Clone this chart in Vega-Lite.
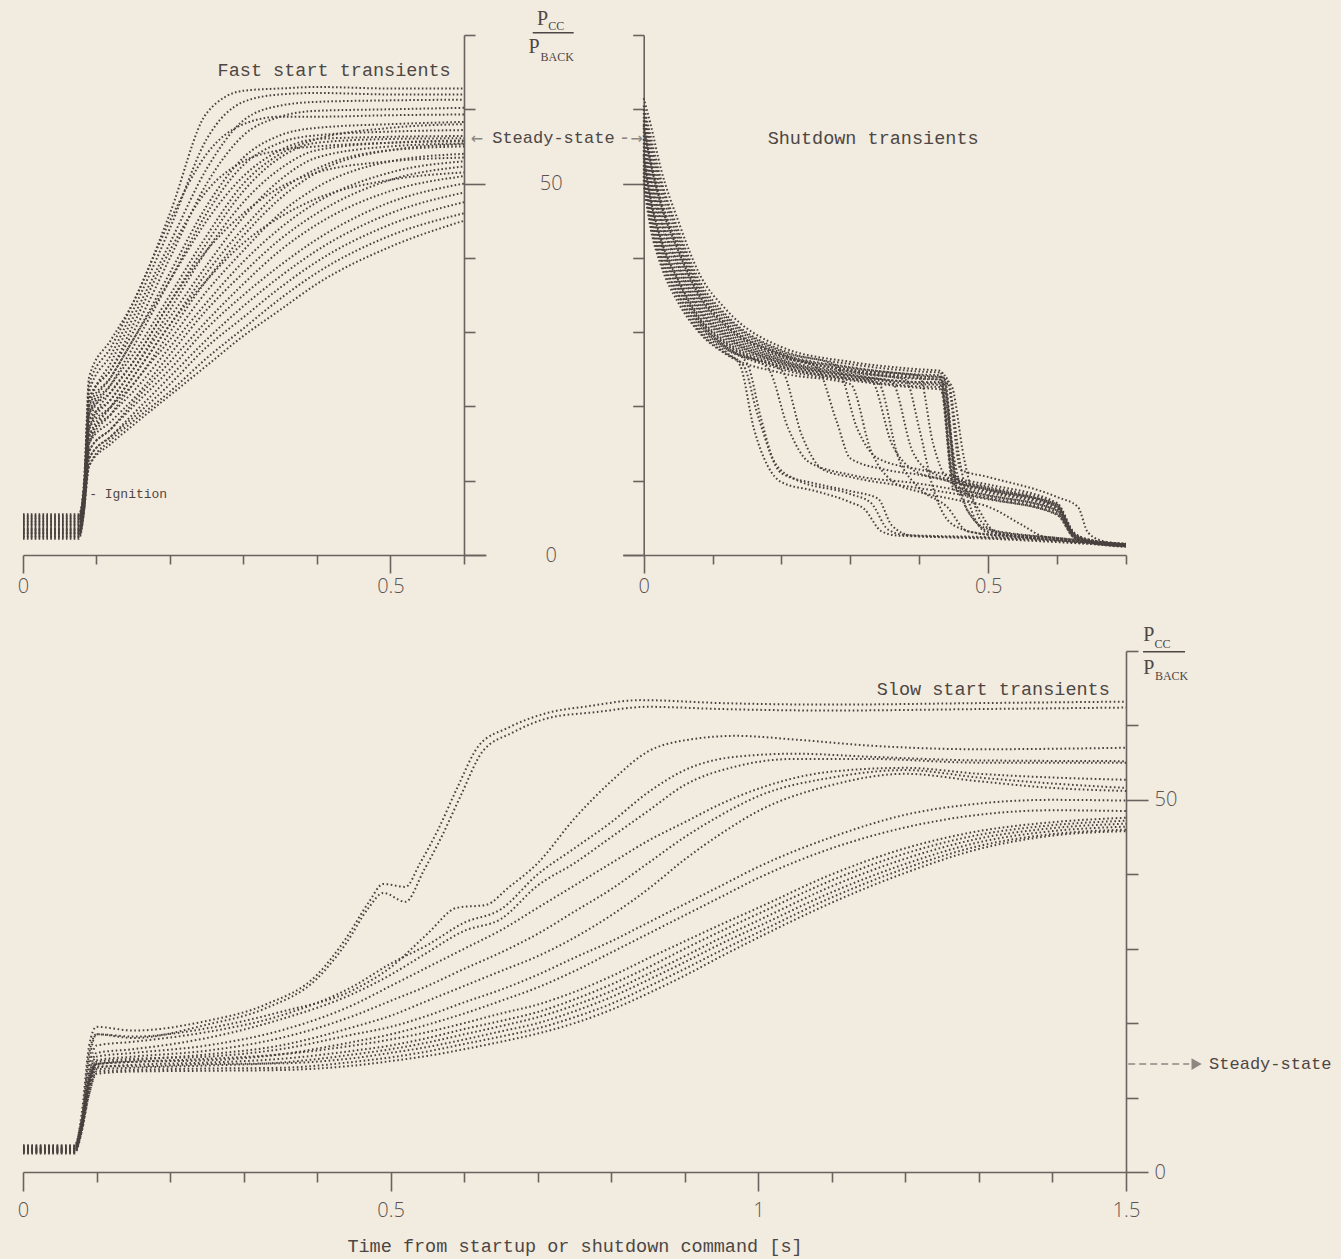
{
"$schema": "https://vega.github.io/schema/vega-lite/v6.json",
"background": "#f2ebe0",
"padding": {"left": 17, "top": 8, "right": 10, "bottom": 4},
"spacing": 28,
"config": {
  "view": {"stroke": null},
  "axis": {"domainColor": "#6a625e", "tickColor": "#6a625e", "domainWidth": 1.6, "tickWidth": 1.6, "grid": false, "labelFont": "Open Sans", "labelFontSize": 20, "labelFontWeight": 300, "labelColor": "#5a5350", "titleFont": "Liberation Mono", "titleFontSize": 18.5, "titleFontWeight": "normal", "titleColor": "#4d4744", "labelFlush": false, "labelOverlap": false, "labelBound": false}
},
"datasets": {
"fast": [
{"c":"f1","t":0,"v":3},{"c":"f1","t":0.076,"v":3},{"c":"f1","t":0.083,"v":9},{"c":"f1","t":0.09,"v":24},{"c":"f1","t":0.12,"v":29},{"c":"f1","t":0.15,"v":34},{"c":"f1","t":0.2,"v":46},{"c":"f1","t":0.25,"v":59.5},{"c":"f1","t":0.3,"v":62.5},{"c":"f1","t":0.35,"v":62.8},{"c":"f1","t":0.4,"v":63},{"c":"f1","t":0.5,"v":62.8},{"c":"f1","t":0.6,"v":62.8},
{"c":"f2","t":0,"v":4.5},{"c":"f2","t":0.076,"v":4.5},{"c":"f2","t":0.083,"v":10},{"c":"f2","t":0.09,"v":22},{"c":"f2","t":0.12,"v":27},{"c":"f2","t":0.15,"v":33},{"c":"f2","t":0.2,"v":44},{"c":"f2","t":0.25,"v":56},{"c":"f2","t":0.3,"v":61},{"c":"f2","t":0.35,"v":62},{"c":"f2","t":0.4,"v":62.2},{"c":"f2","t":0.5,"v":62},{"c":"f2","t":0.6,"v":62},
{"c":"f3","t":0,"v":2.5},{"c":"f3","t":0.076,"v":2.5},{"c":"f3","t":0.083,"v":8},{"c":"f3","t":0.09,"v":20},{"c":"f3","t":0.12,"v":26},{"c":"f3","t":0.15,"v":32},{"c":"f3","t":0.2,"v":42},{"c":"f3","t":0.25,"v":52},{"c":"f3","t":0.3,"v":58.5},{"c":"f3","t":0.35,"v":60.5},{"c":"f3","t":0.4,"v":61},{"c":"f3","t":0.5,"v":61.2},{"c":"f3","t":0.6,"v":61.3},
{"c":"f4","t":0,"v":5.2},{"c":"f4","t":0.076,"v":5.2},{"c":"f4","t":0.083,"v":9},{"c":"f4","t":0.09,"v":21},{"c":"f4","t":0.12,"v":25},{"c":"f4","t":0.15,"v":30},{"c":"f4","t":0.2,"v":40},{"c":"f4","t":0.25,"v":50},{"c":"f4","t":0.3,"v":56.5},{"c":"f4","t":0.35,"v":59},{"c":"f4","t":0.4,"v":59.8},{"c":"f4","t":0.5,"v":60},{"c":"f4","t":0.6,"v":60.2},
{"c":"f5","t":0,"v":3.5},{"c":"f5","t":0.076,"v":3.5},{"c":"f5","t":0.083,"v":8},{"c":"f5","t":0.09,"v":19},{"c":"f5","t":0.12,"v":24},{"c":"f5","t":0.15,"v":29},{"c":"f5","t":0.2,"v":38},{"c":"f5","t":0.25,"v":47},{"c":"f5","t":0.3,"v":53.5},{"c":"f5","t":0.35,"v":56.5},{"c":"f5","t":0.4,"v":57.5},{"c":"f5","t":0.5,"v":58},{"c":"f5","t":0.6,"v":58.3},
{"c":"f6","t":0,"v":4},{"c":"f6","t":0.076,"v":4},{"c":"f6","t":0.083,"v":7},{"c":"f6","t":0.09,"v":18},{"c":"f6","t":0.12,"v":23},{"c":"f6","t":0.15,"v":28},{"c":"f6","t":0.2,"v":37},{"c":"f6","t":0.25,"v":46},{"c":"f6","t":0.3,"v":52.5},{"c":"f6","t":0.35,"v":55.5},{"c":"f6","t":0.4,"v":56.5},{"c":"f6","t":0.5,"v":57},{"c":"f6","t":0.6,"v":57.2},
{"c":"f7","t":0,"v":2.8},{"c":"f7","t":0.076,"v":2.8},{"c":"f7","t":0.083,"v":8},{"c":"f7","t":0.09,"v":20},{"c":"f7","t":0.12,"v":24},{"c":"f7","t":0.15,"v":29},{"c":"f7","t":0.2,"v":37},{"c":"f7","t":0.25,"v":45},{"c":"f7","t":0.3,"v":51},{"c":"f7","t":0.35,"v":54.5},{"c":"f7","t":0.4,"v":56},{"c":"f7","t":0.5,"v":56.3},{"c":"f7","t":0.6,"v":56.4},
{"c":"f8","t":0,"v":4.8},{"c":"f8","t":0.076,"v":4.8},{"c":"f8","t":0.083,"v":9},{"c":"f8","t":0.09,"v":19},{"c":"f8","t":0.12,"v":22},{"c":"f8","t":0.15,"v":26},{"c":"f8","t":0.2,"v":34},{"c":"f8","t":0.25,"v":42},{"c":"f8","t":0.3,"v":49},{"c":"f8","t":0.35,"v":53.5},{"c":"f8","t":0.4,"v":55.5},{"c":"f8","t":0.5,"v":56},{"c":"f8","t":0.6,"v":56.1},
{"c":"f9","t":0,"v":3.2},{"c":"f9","t":0.076,"v":3.2},{"c":"f9","t":0.083,"v":7},{"c":"f9","t":0.09,"v":17},{"c":"f9","t":0.12,"v":21},{"c":"f9","t":0.15,"v":25},{"c":"f9","t":0.2,"v":33},{"c":"f9","t":0.25,"v":41},{"c":"f9","t":0.3,"v":47.5},{"c":"f9","t":0.35,"v":52},{"c":"f9","t":0.4,"v":54.5},{"c":"f9","t":0.5,"v":55.5},{"c":"f9","t":0.6,"v":55.8},
{"c":"f10","t":0,"v":5.5},{"c":"f10","t":0.076,"v":5.5},{"c":"f10","t":0.083,"v":9},{"c":"f10","t":0.09,"v":18},{"c":"f10","t":0.12,"v":21},{"c":"f10","t":0.15,"v":25},{"c":"f10","t":0.2,"v":32},{"c":"f10","t":0.25,"v":39},{"c":"f10","t":0.3,"v":45.5},{"c":"f10","t":0.35,"v":50.5},{"c":"f10","t":0.4,"v":53.5},{"c":"f10","t":0.5,"v":55},{"c":"f10","t":0.6,"v":55.4},
{"c":"f11","t":0,"v":2.2},{"c":"f11","t":0.076,"v":2.2},{"c":"f11","t":0.083,"v":6},{"c":"f11","t":0.09,"v":16},{"c":"f11","t":0.12,"v":20},{"c":"f11","t":0.15,"v":24},{"c":"f11","t":0.2,"v":31},{"c":"f11","t":0.25,"v":38},{"c":"f11","t":0.3,"v":44},{"c":"f11","t":0.35,"v":49},{"c":"f11","t":0.4,"v":52},{"c":"f11","t":0.5,"v":54.5},{"c":"f11","t":0.6,"v":55},
{"c":"f12","t":0,"v":4.2},{"c":"f12","t":0.076,"v":4.2},{"c":"f12","t":0.083,"v":8},{"c":"f12","t":0.09,"v":17},{"c":"f12","t":0.12,"v":20},{"c":"f12","t":0.15,"v":23},{"c":"f12","t":0.2,"v":30},{"c":"f12","t":0.25,"v":37},{"c":"f12","t":0.3,"v":43},{"c":"f12","t":0.35,"v":48},{"c":"f12","t":0.4,"v":51.5},{"c":"f12","t":0.5,"v":54.5},{"c":"f12","t":0.6,"v":55.3},
{"c":"f13","t":0,"v":3.8},{"c":"f13","t":0.076,"v":3.8},{"c":"f13","t":0.083,"v":7},{"c":"f13","t":0.09,"v":15},{"c":"f13","t":0.12,"v":19},{"c":"f13","t":0.15,"v":23},{"c":"f13","t":0.2,"v":29},{"c":"f13","t":0.25,"v":35.5},{"c":"f13","t":0.3,"v":41},{"c":"f13","t":0.35,"v":46},{"c":"f13","t":0.4,"v":49.5},{"c":"f13","t":0.5,"v":53},{"c":"f13","t":0.6,"v":54},
{"c":"f14","t":0,"v":2.6},{"c":"f14","t":0.076,"v":2.6},{"c":"f14","t":0.083,"v":6},{"c":"f14","t":0.09,"v":16},{"c":"f14","t":0.12,"v":19},{"c":"f14","t":0.15,"v":22},{"c":"f14","t":0.2,"v":28},{"c":"f14","t":0.25,"v":34},{"c":"f14","t":0.3,"v":39.5},{"c":"f14","t":0.35,"v":44},{"c":"f14","t":0.4,"v":47.5},{"c":"f14","t":0.5,"v":51.5},{"c":"f14","t":0.6,"v":53},
{"c":"f15","t":0,"v":4.6},{"c":"f15","t":0.076,"v":4.6},{"c":"f15","t":0.083,"v":8},{"c":"f15","t":0.09,"v":15},{"c":"f15","t":0.12,"v":18},{"c":"f15","t":0.15,"v":21},{"c":"f15","t":0.2,"v":27},{"c":"f15","t":0.25,"v":33},{"c":"f15","t":0.3,"v":38},{"c":"f15","t":0.35,"v":42.5},{"c":"f15","t":0.4,"v":46},{"c":"f15","t":0.5,"v":50.5},{"c":"f15","t":0.6,"v":52.3},
{"c":"f16","t":0,"v":3.3},{"c":"f16","t":0.076,"v":3.3},{"c":"f16","t":0.083,"v":6},{"c":"f16","t":0.09,"v":14},{"c":"f16","t":0.12,"v":17},{"c":"f16","t":0.15,"v":20.5},{"c":"f16","t":0.2,"v":26},{"c":"f16","t":0.25,"v":31.5},{"c":"f16","t":0.3,"v":36.5},{"c":"f16","t":0.35,"v":41},{"c":"f16","t":0.4,"v":44.5},{"c":"f16","t":0.5,"v":49},{"c":"f16","t":0.6,"v":51},
{"c":"f17","t":0,"v":5},{"c":"f17","t":0.076,"v":5},{"c":"f17","t":0.083,"v":8},{"c":"f17","t":0.09,"v":14},{"c":"f17","t":0.12,"v":17},{"c":"f17","t":0.15,"v":20},{"c":"f17","t":0.2,"v":25},{"c":"f17","t":0.25,"v":30.5},{"c":"f17","t":0.3,"v":35},{"c":"f17","t":0.35,"v":39},{"c":"f17","t":0.4,"v":42.5},{"c":"f17","t":0.5,"v":47.5},{"c":"f17","t":0.6,"v":50},
{"c":"f18","t":0,"v":2.4},{"c":"f18","t":0.076,"v":2.4},{"c":"f18","t":0.083,"v":6},{"c":"f18","t":0.09,"v":13},{"c":"f18","t":0.12,"v":16},{"c":"f18","t":0.15,"v":19},{"c":"f18","t":0.2,"v":24},{"c":"f18","t":0.25,"v":29},{"c":"f18","t":0.3,"v":33.5},{"c":"f18","t":0.35,"v":37.5},{"c":"f18","t":0.4,"v":41},{"c":"f18","t":0.5,"v":46},{"c":"f18","t":0.6,"v":48.8},
{"c":"f19","t":0,"v":4.4},{"c":"f19","t":0.076,"v":4.4},{"c":"f19","t":0.083,"v":7},{"c":"f19","t":0.09,"v":13},{"c":"f19","t":0.12,"v":16},{"c":"f19","t":0.15,"v":18.5},{"c":"f19","t":0.2,"v":23},{"c":"f19","t":0.25,"v":28},{"c":"f19","t":0.3,"v":32},{"c":"f19","t":0.35,"v":36},{"c":"f19","t":0.4,"v":39.5},{"c":"f19","t":0.5,"v":44.5},{"c":"f19","t":0.6,"v":47.5},
{"c":"f20","t":0,"v":3},{"c":"f20","t":0.076,"v":3},{"c":"f20","t":0.083,"v":6},{"c":"f20","t":0.09,"v":12},{"c":"f20","t":0.12,"v":15.5},{"c":"f20","t":0.15,"v":18},{"c":"f20","t":0.2,"v":22},{"c":"f20","t":0.25,"v":26.5},{"c":"f20","t":0.3,"v":30.5},{"c":"f20","t":0.35,"v":34.5},{"c":"f20","t":0.4,"v":38},{"c":"f20","t":0.5,"v":43},{"c":"f20","t":0.6,"v":46},
{"c":"f21","t":0,"v":5.3},{"c":"f21","t":0.076,"v":5.3},{"c":"f21","t":0.083,"v":7},{"c":"f21","t":0.09,"v":12},{"c":"f21","t":0.12,"v":15},{"c":"f21","t":0.15,"v":17.5},{"c":"f21","t":0.2,"v":21.5},{"c":"f21","t":0.25,"v":25.5},{"c":"f21","t":0.3,"v":29.5},{"c":"f21","t":0.35,"v":33},{"c":"f21","t":0.4,"v":36.5},{"c":"f21","t":0.5,"v":41.5},{"c":"f21","t":0.6,"v":45},
{"c":"f22","t":0,"v":3.6},{"c":"f22","t":0.076,"v":3.6},{"c":"f22","t":0.083,"v":8},{"c":"f22","t":0.09,"v":21},{"c":"f22","t":0.12,"v":25},{"c":"f22","t":0.15,"v":31},{"c":"f22","t":0.2,"v":41},{"c":"f22","t":0.25,"v":49},{"c":"f22","t":0.3,"v":53},{"c":"f22","t":0.35,"v":54.5},{"c":"f22","t":0.4,"v":55},{"c":"f22","t":0.5,"v":55.5},{"c":"f22","t":0.6,"v":55.7},
{"c":"f23","t":0,"v":4.9},{"c":"f23","t":0.076,"v":4.9},{"c":"f23","t":0.083,"v":9},{"c":"f23","t":0.09,"v":19},{"c":"f23","t":0.12,"v":23},{"c":"f23","t":0.15,"v":27},{"c":"f23","t":0.2,"v":35},{"c":"f23","t":0.25,"v":43},{"c":"f23","t":0.3,"v":50},{"c":"f23","t":0.35,"v":54},{"c":"f23","t":0.4,"v":56},{"c":"f23","t":0.5,"v":57.5},{"c":"f23","t":0.6,"v":58},
{"c":"f24","t":0,"v":2.9},{"c":"f24","t":0.076,"v":2.9},{"c":"f24","t":0.083,"v":7},{"c":"f24","t":0.09,"v":17},{"c":"f24","t":0.12,"v":22},{"c":"f24","t":0.15,"v":26},{"c":"f24","t":0.2,"v":34},{"c":"f24","t":0.25,"v":41},{"c":"f24","t":0.3,"v":46},{"c":"f24","t":0.35,"v":49.5},{"c":"f24","t":0.4,"v":51.5},{"c":"f24","t":0.5,"v":53},{"c":"f24","t":0.6,"v":53.5},
{"c":"f25","t":0,"v":4.1},{"c":"f25","t":0.076,"v":4.1},{"c":"f25","t":0.083,"v":7},{"c":"f25","t":0.09,"v":15},{"c":"f25","t":0.12,"v":20},{"c":"f25","t":0.15,"v":24},{"c":"f25","t":0.2,"v":31},{"c":"f25","t":0.25,"v":37},{"c":"f25","t":0.3,"v":42},{"c":"f25","t":0.35,"v":45.5},{"c":"f25","t":0.4,"v":48},{"c":"f25","t":0.5,"v":50.5},{"c":"f25","t":0.6,"v":51.5},
{"c":"f26","t":0,"v":3.4},{"c":"f26","t":0.076,"v":3.4},{"c":"f26","t":0.083,"v":8},{"c":"f26","t":0.09,"v":23},{"c":"f26","t":0.12,"v":28},{"c":"f26","t":0.15,"v":34},{"c":"f26","t":0.2,"v":45},{"c":"f26","t":0.25,"v":54},{"c":"f26","t":0.3,"v":58},{"c":"f26","t":0.35,"v":59},{"c":"f26","t":0.4,"v":59},{"c":"f26","t":0.5,"v":59.2},{"c":"f26","t":0.6,"v":59.3}
],
"shut": [
{"c":"s1","t":0,"v":61.5},{"c":"s1","t":0.01,"v":58},{"c":"s1","t":0.025,"v":52},{"c":"s1","t":0.05,"v":45},{"c":"s1","t":0.08,"v":38},{"c":"s1","t":0.12,"v":33},{"c":"s1","t":0.2,"v":28},{"c":"s1","t":0.3,"v":26},{"c":"s1","t":0.4,"v":25},{"c":"s1","t":0.43,"v":24.8},{"c":"s1","t":0.45,"v":10.5},{"c":"s1","t":0.5,"v":9.5},{"c":"s1","t":0.6,"v":7},{"c":"s1","t":0.625,"v":3},{"c":"s1","t":0.65,"v":2},{"c":"s1","t":0.7,"v":1.5},
{"c":"s2","t":0,"v":60.5},{"c":"s2","t":0.01,"v":56.4},{"c":"s2","t":0.025,"v":50.6},{"c":"s2","t":0.05,"v":43.8},{"c":"s2","t":0.08,"v":37.1},{"c":"s2","t":0.12,"v":32.3},{"c":"s2","t":0.2,"v":27.6},{"c":"s2","t":0.3,"v":25.7},{"c":"s2","t":0.4,"v":24.7},{"c":"s2","t":0.435,"v":24.5},{"c":"s2","t":0.455,"v":10.2},{"c":"s2","t":0.5,"v":9.2},{"c":"s2","t":0.6,"v":6.8},{"c":"s2","t":0.625,"v":2.9},{"c":"s2","t":0.65,"v":1.95},{"c":"s2","t":0.7,"v":1.45},
{"c":"s3","t":0,"v":59.5},{"c":"s3","t":0.01,"v":54.9},{"c":"s3","t":0.025,"v":49.1},{"c":"s3","t":0.05,"v":42.6},{"c":"s3","t":0.08,"v":36.2},{"c":"s3","t":0.12,"v":31.7},{"c":"s3","t":0.2,"v":27.2},{"c":"s3","t":0.3,"v":25.3},{"c":"s3","t":0.4,"v":24.3},{"c":"s3","t":0.43,"v":24.2},{"c":"s3","t":0.45,"v":9.9},{"c":"s3","t":0.5,"v":8.9},{"c":"s3","t":0.6,"v":6.6},{"c":"s3","t":0.625,"v":2.8},{"c":"s3","t":0.65,"v":1.9},{"c":"s3","t":0.7,"v":1.4},
{"c":"s4","t":0,"v":58.5},{"c":"s4","t":0.01,"v":53.3},{"c":"s4","t":0.025,"v":47.7},{"c":"s4","t":0.05,"v":41.3},{"c":"s4","t":0.08,"v":35.3},{"c":"s4","t":0.12,"v":31},{"c":"s4","t":0.2,"v":26.8},{"c":"s4","t":0.3,"v":25},{"c":"s4","t":0.4,"v":24},{"c":"s4","t":0.435,"v":23.9},{"c":"s4","t":0.455,"v":9.7},{"c":"s4","t":0.5,"v":8.7},{"c":"s4","t":0.6,"v":6.3},{"c":"s4","t":0.625,"v":2.7},{"c":"s4","t":0.65,"v":1.85},{"c":"s4","t":0.7,"v":1.35},
{"c":"s5","t":0,"v":57},{"c":"s5","t":0.01,"v":51.8},{"c":"s5","t":0.025,"v":46.2},{"c":"s5","t":0.05,"v":40.1},{"c":"s5","t":0.08,"v":34.4},{"c":"s5","t":0.12,"v":30.3},{"c":"s5","t":0.2,"v":26.4},{"c":"s5","t":0.3,"v":24.7},{"c":"s5","t":0.4,"v":23.7},{"c":"s5","t":0.43,"v":23.6},{"c":"s5","t":0.45,"v":9.4},{"c":"s5","t":0.5,"v":8.4},{"c":"s5","t":0.6,"v":6.1},{"c":"s5","t":0.625,"v":2.6},{"c":"s5","t":0.65,"v":1.8},{"c":"s5","t":0.7,"v":1.3},
{"c":"s6","t":0,"v":56},{"c":"s6","t":0.01,"v":50.2},{"c":"s6","t":0.025,"v":44.8},{"c":"s6","t":0.05,"v":38.9},{"c":"s6","t":0.08,"v":33.6},{"c":"s6","t":0.12,"v":29.7},{"c":"s6","t":0.2,"v":26.1},{"c":"s6","t":0.3,"v":24.3},{"c":"s6","t":0.4,"v":23.3},{"c":"s6","t":0.435,"v":23.3},{"c":"s6","t":0.455,"v":9.1},{"c":"s6","t":0.5,"v":8.1},{"c":"s6","t":0.6,"v":5.9},{"c":"s6","t":0.625,"v":2.5},{"c":"s6","t":0.65,"v":1.75},{"c":"s6","t":0.7,"v":1.25},
{"c":"s7","t":0,"v":54.5},{"c":"s7","t":0.01,"v":48.7},{"c":"s7","t":0.025,"v":43.3},{"c":"s7","t":0.05,"v":37.7},{"c":"s7","t":0.08,"v":32.7},{"c":"s7","t":0.12,"v":29},{"c":"s7","t":0.2,"v":25.7},{"c":"s7","t":0.3,"v":24},{"c":"s7","t":0.4,"v":23},{"c":"s7","t":0.43,"v":22.9},{"c":"s7","t":0.45,"v":8.8},{"c":"s7","t":0.5,"v":7.8},{"c":"s7","t":0.6,"v":5.7},{"c":"s7","t":0.625,"v":2.4},{"c":"s7","t":0.65,"v":1.7},{"c":"s7","t":0.7,"v":1.2},
{"c":"s8","t":0,"v":53},{"c":"s8","t":0.01,"v":47.1},{"c":"s8","t":0.025,"v":41.9},{"c":"s8","t":0.05,"v":36.4},{"c":"s8","t":0.08,"v":31.8},{"c":"s8","t":0.12,"v":28.3},{"c":"s8","t":0.2,"v":25.3},{"c":"s8","t":0.3,"v":23.7},{"c":"s8","t":0.4,"v":22.7},{"c":"s8","t":0.435,"v":22.6},{"c":"s8","t":0.455,"v":8.6},{"c":"s8","t":0.5,"v":7.6},{"c":"s8","t":0.6,"v":5.4},{"c":"s8","t":0.625,"v":2.3},{"c":"s8","t":0.65,"v":1.65},{"c":"s8","t":0.7,"v":1.15},
{"c":"s9","t":0,"v":51.5},{"c":"s9","t":0.01,"v":45.6},{"c":"s9","t":0.025,"v":40.4},{"c":"s9","t":0.05,"v":35.2},{"c":"s9","t":0.08,"v":30.9},{"c":"s9","t":0.12,"v":27.7},{"c":"s9","t":0.2,"v":24.9},{"c":"s9","t":0.23,"v":16},{"c":"s9","t":0.26,"v":11.5},{"c":"s9","t":0.3,"v":10.5},{"c":"s9","t":0.4,"v":9},{"c":"s9","t":0.5,"v":7.5},{"c":"s9","t":0.6,"v":5.5},{"c":"s9","t":0.625,"v":2.3},{"c":"s9","t":0.65,"v":1.6},{"c":"s9","t":0.7,"v":1.1},
{"c":"s10","t":0,"v":50},{"c":"s10","t":0.01,"v":44},{"c":"s10","t":0.025,"v":39},{"c":"s10","t":0.05,"v":34},{"c":"s10","t":0.08,"v":30},{"c":"s10","t":0.12,"v":27},{"c":"s10","t":0.2,"v":24.5},{"c":"s10","t":0.3,"v":23},{"c":"s10","t":0.33,"v":14},{"c":"s10","t":0.36,"v":10},{"c":"s10","t":0.4,"v":8.5},{"c":"s10","t":0.45,"v":7.5},{"c":"s10","t":0.5,"v":6.5},{"c":"s10","t":0.55,"v":4},{"c":"s10","t":0.58,"v":2.5},{"c":"s10","t":0.7,"v":1.2},
{"c":"s11","t":0,"v":59},{"c":"s11","t":0.01,"v":54},{"c":"s11","t":0.025,"v":48},{"c":"s11","t":0.05,"v":42},{"c":"s11","t":0.08,"v":35.8},{"c":"s11","t":0.12,"v":31.3},{"c":"s11","t":0.2,"v":27},{"c":"s11","t":0.3,"v":25.2},{"c":"s11","t":0.4,"v":24.2},{"c":"s11","t":0.44,"v":23.8},{"c":"s11","t":0.46,"v":12},{"c":"s11","t":0.48,"v":5},{"c":"s11","t":0.5,"v":3},{"c":"s11","t":0.6,"v":2.2},{"c":"s11","t":0.7,"v":1.4},
{"c":"s12","t":0,"v":55},{"c":"s12","t":0.01,"v":49.5},{"c":"s12","t":0.025,"v":44},{"c":"s12","t":0.05,"v":38.3},{"c":"s12","t":0.08,"v":33},{"c":"s12","t":0.12,"v":29.3},{"c":"s12","t":0.2,"v":25.9},{"c":"s12","t":0.3,"v":24.2},{"c":"s12","t":0.4,"v":23.2},{"c":"s12","t":0.445,"v":23},{"c":"s12","t":0.465,"v":13},{"c":"s12","t":0.49,"v":4.5},{"c":"s12","t":0.52,"v":2.8},{"c":"s12","t":0.6,"v":2.1},{"c":"s12","t":0.7,"v":1.3},
{"c":"s13","t":0,"v":52},{"c":"s13","t":0.01,"v":46},{"c":"s13","t":0.025,"v":41},{"c":"s13","t":0.05,"v":35.8},{"c":"s13","t":0.08,"v":31.4},{"c":"s13","t":0.12,"v":28},{"c":"s13","t":0.2,"v":25},{"c":"s13","t":0.3,"v":23.5},{"c":"s13","t":0.4,"v":22.5},{"c":"s13","t":0.43,"v":22.3},{"c":"s13","t":0.455,"v":11},{"c":"s13","t":0.47,"v":6},{"c":"s13","t":0.5,"v":3.5},{"c":"s13","t":0.6,"v":2.3},{"c":"s13","t":0.7,"v":1.5},
{"c":"s14","t":0,"v":57.5},{"c":"s14","t":0.01,"v":52.5},{"c":"s14","t":0.025,"v":46.9},{"c":"s14","t":0.05,"v":40.7},{"c":"s14","t":0.08,"v":34.8},{"c":"s14","t":0.12,"v":30.6},{"c":"s14","t":0.2,"v":26.6},{"c":"s14","t":0.25,"v":25.4},{"c":"s14","t":0.28,"v":18},{"c":"s14","t":0.3,"v":13},{"c":"s14","t":0.35,"v":11.5},{"c":"s14","t":0.4,"v":10.8},{"c":"s14","t":0.5,"v":8.6},{"c":"s14","t":0.6,"v":6.5},{"c":"s14","t":0.625,"v":2.8},{"c":"s14","t":0.65,"v":1.9},{"c":"s14","t":0.7,"v":1.4},
{"c":"s15","t":0,"v":54},{"c":"s15","t":0.01,"v":48},{"c":"s15","t":0.025,"v":42.6},{"c":"s15","t":0.05,"v":37.2},{"c":"s15","t":0.08,"v":32.2},{"c":"s15","t":0.12,"v":28.7},{"c":"s15","t":0.2,"v":25.5},{"c":"s15","t":0.3,"v":23.8},{"c":"s15","t":0.33,"v":23.5},{"c":"s15","t":0.36,"v":15},{"c":"s15","t":0.39,"v":11.5},{"c":"s15","t":0.45,"v":9.5},{"c":"s15","t":0.47,"v":6},{"c":"s15","t":0.5,"v":3.2},{"c":"s15","t":0.6,"v":2.2},{"c":"s15","t":0.7,"v":1.3},
{"c":"s16","t":0,"v":56.5},{"c":"s16","t":0.01,"v":51},{"c":"s16","t":0.025,"v":45.5},{"c":"s16","t":0.05,"v":39.5},{"c":"s16","t":0.08,"v":34},{"c":"s16","t":0.12,"v":30},{"c":"s16","t":0.2,"v":26.2},{"c":"s16","t":0.3,"v":24.5},{"c":"s16","t":0.38,"v":23.6},{"c":"s16","t":0.4,"v":17},{"c":"s16","t":0.42,"v":9},{"c":"s16","t":0.45,"v":4},{"c":"s16","t":0.5,"v":2.7},{"c":"s16","t":0.6,"v":2.1},{"c":"s16","t":0.7,"v":1.3},
{"c":"s17","t":0,"v":51},{"c":"s17","t":0.01,"v":45},{"c":"s17","t":0.025,"v":40},{"c":"s17","t":0.05,"v":35},{"c":"s17","t":0.08,"v":30.5},{"c":"s17","t":0.12,"v":27.3},{"c":"s17","t":0.14,"v":25.5},{"c":"s17","t":0.16,"v":17},{"c":"s17","t":0.18,"v":12},{"c":"s17","t":0.2,"v":9.8},{"c":"s17","t":0.25,"v":8.6},{"c":"s17","t":0.3,"v":7.1},{"c":"s17","t":0.32,"v":6.2},{"c":"s17","t":0.345,"v":3.2},{"c":"s17","t":0.37,"v":2.6},{"c":"s17","t":0.5,"v":2.3},{"c":"s17","t":0.7,"v":1.3},
{"c":"s18","t":0,"v":53.5},{"c":"s18","t":0.01,"v":47.5},{"c":"s18","t":0.025,"v":42},{"c":"s18","t":0.05,"v":36.8},{"c":"s18","t":0.08,"v":31.6},{"c":"s18","t":0.12,"v":28},{"c":"s18","t":0.15,"v":25.8},{"c":"s18","t":0.17,"v":18.5},{"c":"s18","t":0.19,"v":12.5},{"c":"s18","t":0.22,"v":10.2},{"c":"s18","t":0.3,"v":8.2},{"c":"s18","t":0.33,"v":7},{"c":"s18","t":0.355,"v":3.4},{"c":"s18","t":0.38,"v":2.7},{"c":"s18","t":0.5,"v":2.4},{"c":"s18","t":0.7,"v":1.4},
{"c":"s19","t":0,"v":50.5},{"c":"s19","t":0.01,"v":44.5},{"c":"s19","t":0.025,"v":39.5},{"c":"s19","t":0.05,"v":34.5},{"c":"s19","t":0.08,"v":30.2},{"c":"s19","t":0.12,"v":27.1},{"c":"s19","t":0.145,"v":25.5},{"c":"s19","t":0.165,"v":19},{"c":"s19","t":0.2,"v":11},{"c":"s19","t":0.25,"v":9.6},{"c":"s19","t":0.3,"v":8.6},{"c":"s19","t":0.34,"v":7.6},{"c":"s19","t":0.36,"v":4},{"c":"s19","t":0.39,"v":2.6},{"c":"s19","t":0.5,"v":2.2},{"c":"s19","t":0.7,"v":1.2},
{"c":"s20","t":0,"v":60},{"c":"s20","t":0.01,"v":55.5},{"c":"s20","t":0.025,"v":50},{"c":"s20","t":0.05,"v":43.2},{"c":"s20","t":0.08,"v":36.6},{"c":"s20","t":0.12,"v":32},{"c":"s20","t":0.2,"v":27.4},{"c":"s20","t":0.28,"v":25.5},{"c":"s20","t":0.31,"v":17},{"c":"s20","t":0.34,"v":13},{"c":"s20","t":0.4,"v":11.5},{"c":"s20","t":0.45,"v":10.5},{"c":"s20","t":0.48,"v":7},{"c":"s20","t":0.51,"v":3.2},{"c":"s20","t":0.6,"v":2.3},{"c":"s20","t":0.7,"v":1.4},
{"c":"s21","t":0,"v":55.5},{"c":"s21","t":0.01,"v":50.5},{"c":"s21","t":0.025,"v":45},{"c":"s21","t":0.05,"v":39},{"c":"s21","t":0.08,"v":33.3},{"c":"s21","t":0.12,"v":29.5},{"c":"s21","t":0.2,"v":25.8},{"c":"s21","t":0.3,"v":24.1},{"c":"s21","t":0.36,"v":23.3},{"c":"s21","t":0.39,"v":14},{"c":"s21","t":0.42,"v":11},{"c":"s21","t":0.5,"v":9},{"c":"s21","t":0.6,"v":6.5},{"c":"s21","t":0.625,"v":2.7},{"c":"s21","t":0.65,"v":1.8},{"c":"s21","t":0.7,"v":1.3},
{"c":"s22","t":0,"v":58},{"c":"s22","t":0.01,"v":53},{"c":"s22","t":0.025,"v":47.5},{"c":"s22","t":0.05,"v":41.5},{"c":"s22","t":0.08,"v":35.5},{"c":"s22","t":0.12,"v":31},{"c":"s22","t":0.2,"v":27},{"c":"s22","t":0.3,"v":24.8},{"c":"s22","t":0.4,"v":23.8},{"c":"s22","t":0.44,"v":23.5},{"c":"s22","t":0.46,"v":11.5},{"c":"s22","t":0.5,"v":10.5},{"c":"s22","t":0.6,"v":7.8},{"c":"s22","t":0.63,"v":6.5},{"c":"s22","t":0.645,"v":3},{"c":"s22","t":0.67,"v":1.8},{"c":"s22","t":0.7,"v":1.5},
{"c":"s23","t":0,"v":57.8},{"c":"s23","t":0.01,"v":52.8},{"c":"s23","t":0.025,"v":47.2},{"c":"s23","t":0.05,"v":41},{"c":"s23","t":0.08,"v":35},{"c":"s23","t":0.12,"v":30.8},{"c":"s23","t":0.2,"v":26.8},{"c":"s23","t":0.3,"v":24.9},{"c":"s23","t":0.4,"v":24.1},{"c":"s23","t":0.42,"v":15},{"c":"s23","t":0.44,"v":10.5},{"c":"s23","t":0.5,"v":8.8},{"c":"s23","t":0.6,"v":6.8},{"c":"s23","t":0.62,"v":3},{"c":"s23","t":0.65,"v":2},{"c":"s23","t":0.7,"v":1.4},
{"c":"s24","t":0,"v":52.5},{"c":"s24","t":0.01,"v":46.5},{"c":"s24","t":0.025,"v":41.5},{"c":"s24","t":0.05,"v":36},{"c":"s24","t":0.08,"v":31.2},{"c":"s24","t":0.12,"v":27.8},{"c":"s24","t":0.18,"v":25.2},{"c":"s24","t":0.21,"v":17},{"c":"s24","t":0.24,"v":12.5},{"c":"s24","t":0.3,"v":10.8},{"c":"s24","t":0.4,"v":9.6},{"c":"s24","t":0.5,"v":8},{"c":"s24","t":0.6,"v":6},{"c":"s24","t":0.625,"v":2.5},{"c":"s24","t":0.65,"v":1.7},{"c":"s24","t":0.7,"v":1.2},
{"c":"s25","t":0,"v":53.8},{"c":"s25","t":0.01,"v":48},{"c":"s25","t":0.025,"v":42.5},{"c":"s25","t":0.05,"v":37},{"c":"s25","t":0.08,"v":32},{"c":"s25","t":0.12,"v":28.5},{"c":"s25","t":0.2,"v":25.3},{"c":"s25","t":0.3,"v":23.7},{"c":"s25","t":0.34,"v":23.2},{"c":"s25","t":0.37,"v":13},{"c":"s25","t":0.4,"v":9},{"c":"s25","t":0.44,"v":6.5},{"c":"s25","t":0.47,"v":3.2},{"c":"s25","t":0.55,"v":2.4},{"c":"s25","t":0.7,"v":1.3}
],
"slow": [
{"c":"a1","t":0,"v":3.2},{"c":"a1","t":0.07,"v":3.2},{"c":"a1","t":0.08,"v":8},{"c":"a1","t":0.09,"v":17},{"c":"a1","t":0.1,"v":19.5},{"c":"a1","t":0.15,"v":19},{"c":"a1","t":0.25,"v":20.3},{"c":"a1","t":0.33,"v":22.5},{"c":"a1","t":0.4,"v":26.5},{"c":"a1","t":0.44,"v":31.5},{"c":"a1","t":0.47,"v":36.2},{"c":"a1","t":0.49,"v":38.7},{"c":"a1","t":0.52,"v":38.3},{"c":"a1","t":0.54,"v":41.5},{"c":"a1","t":0.565,"v":46.1},{"c":"a1","t":0.59,"v":51.5},{"c":"a1","t":0.62,"v":57.3},{"c":"a1","t":0.66,"v":59.7},{"c":"a1","t":0.71,"v":61.6},{"c":"a1","t":0.77,"v":62.6},{"c":"a1","t":0.84,"v":63.4},{"c":"a1","t":0.95,"v":63},{"c":"a1","t":1.1,"v":62.8},{"c":"a1","t":1.3,"v":63},{"c":"a1","t":1.5,"v":63.2},
{"c":"a2","t":0,"v":2.7},{"c":"a2","t":0.07,"v":2.7},{"c":"a2","t":0.08,"v":7},{"c":"a2","t":0.09,"v":15},{"c":"a2","t":0.1,"v":18.5},{"c":"a2","t":0.15,"v":18},{"c":"a2","t":0.25,"v":19.8},{"c":"a2","t":0.33,"v":22},{"c":"a2","t":0.4,"v":26},{"c":"a2","t":0.44,"v":30.8},{"c":"a2","t":0.47,"v":35.5},{"c":"a2","t":0.49,"v":37.5},{"c":"a2","t":0.52,"v":36.3},{"c":"a2","t":0.545,"v":40.5},{"c":"a2","t":0.57,"v":45.2},{"c":"a2","t":0.595,"v":50.5},{"c":"a2","t":0.625,"v":56.5},{"c":"a2","t":0.665,"v":59},{"c":"a2","t":0.715,"v":61},{"c":"a2","t":0.78,"v":61.8},{"c":"a2","t":0.85,"v":62.5},{"c":"a2","t":0.95,"v":62.2},{"c":"a2","t":1.1,"v":62},{"c":"a2","t":1.3,"v":62.2},{"c":"a2","t":1.5,"v":62.4},
{"c":"b","t":0,"v":3},{"c":"b","t":0.07,"v":3},{"c":"b","t":0.08,"v":7},{"c":"b","t":0.09,"v":16},{"c":"b","t":0.1,"v":18.5},{"c":"b","t":0.15,"v":18.2},{"c":"b","t":0.25,"v":19.3},{"c":"b","t":0.35,"v":21.5},{"c":"b","t":0.45,"v":24.5},{"c":"b","t":0.5,"v":27.5},{"c":"b","t":0.55,"v":32},{"c":"b","t":0.59,"v":35.5},{"c":"b","t":0.63,"v":35.9},{"c":"b","t":0.66,"v":38.2},{"c":"b","t":0.7,"v":41.5},{"c":"b","t":0.75,"v":47.5},{"c":"b","t":0.8,"v":52.5},{"c":"b","t":0.85,"v":56.5},{"c":"b","t":0.9,"v":58},{"c":"b","t":0.97,"v":58.6},{"c":"b","t":1.05,"v":58.1},{"c":"b","t":1.15,"v":57.3},{"c":"b","t":1.3,"v":56.8},{"c":"b","t":1.5,"v":57},
{"c":"c1","t":0,"v":2.8},{"c":"c1","t":0.07,"v":2.8},{"c":"c1","t":0.08,"v":6},{"c":"c1","t":0.09,"v":14},{"c":"c1","t":0.1,"v":17},{"c":"c1","t":0.15,"v":17.5},{"c":"c1","t":0.25,"v":18.8},{"c":"c1","t":0.35,"v":21},{"c":"c1","t":0.45,"v":25},{"c":"c1","t":0.5,"v":28},{"c":"c1","t":0.55,"v":30.5},{"c":"c1","t":0.6,"v":33.5},{"c":"c1","t":0.65,"v":35.3},{"c":"c1","t":0.7,"v":40},{"c":"c1","t":0.75,"v":43.5},{"c":"c1","t":0.8,"v":47},{"c":"c1","t":0.85,"v":51},{"c":"c1","t":0.9,"v":54},{"c":"c1","t":0.97,"v":55.8},{"c":"c1","t":1.05,"v":56.2},{"c":"c1","t":1.15,"v":55.8},{"c":"c1","t":1.3,"v":55.3},{"c":"c1","t":1.5,"v":55.2},
{"c":"c2","t":0,"v":3.4},{"c":"c2","t":0.07,"v":3.4},{"c":"c2","t":0.08,"v":7},{"c":"c2","t":0.09,"v":13},{"c":"c2","t":0.1,"v":16},{"c":"c2","t":0.15,"v":16.5},{"c":"c2","t":0.25,"v":18},{"c":"c2","t":0.35,"v":20.5},{"c":"c2","t":0.45,"v":24},{"c":"c2","t":0.5,"v":26.5},{"c":"c2","t":0.55,"v":29.5},{"c":"c2","t":0.6,"v":32.4},{"c":"c2","t":0.65,"v":34},{"c":"c2","t":0.7,"v":38.5},{"c":"c2","t":0.75,"v":41.5},{"c":"c2","t":0.8,"v":45},{"c":"c2","t":0.85,"v":48.5},{"c":"c2","t":0.9,"v":52},{"c":"c2","t":0.97,"v":54.5},{"c":"c2","t":1.05,"v":55.5},{"c":"c2","t":1.15,"v":55.5},{"c":"c2","t":1.3,"v":55},{"c":"c2","t":1.5,"v":55},
{"c":"d1","t":0,"v":3.1},{"c":"d1","t":0.07,"v":3.1},{"c":"d1","t":0.08,"v":6.5},{"c":"d1","t":0.09,"v":13},{"c":"d1","t":0.1,"v":15.5},{"c":"d1","t":0.15,"v":16},{"c":"d1","t":0.25,"v":17},{"c":"d1","t":0.35,"v":19},{"c":"d1","t":0.45,"v":22.5},{"c":"d1","t":0.5,"v":25},{"c":"d1","t":0.55,"v":27.5},{"c":"d1","t":0.6,"v":30},{"c":"d1","t":0.65,"v":32.5},{"c":"d1","t":0.7,"v":35.5},{"c":"d1","t":0.75,"v":38.5},{"c":"d1","t":0.8,"v":41.5},{"c":"d1","t":0.85,"v":44.5},{"c":"d1","t":0.9,"v":47},{"c":"d1","t":0.95,"v":49.5},{"c":"d1","t":1,"v":51.5},{"c":"d1","t":1.1,"v":53.8},{"c":"d1","t":1.2,"v":54.3},{"c":"d1","t":1.3,"v":53.5},{"c":"d1","t":1.4,"v":53},{"c":"d1","t":1.5,"v":52.7},
{"c":"d2","t":0,"v":2.6},{"c":"d2","t":0.07,"v":2.6},{"c":"d2","t":0.08,"v":6},{"c":"d2","t":0.09,"v":12},{"c":"d2","t":0.1,"v":15},{"c":"d2","t":0.15,"v":15.5},{"c":"d2","t":0.25,"v":16.3},{"c":"d2","t":0.35,"v":18},{"c":"d2","t":0.45,"v":21},{"c":"d2","t":0.5,"v":23},{"c":"d2","t":0.55,"v":25},{"c":"d2","t":0.6,"v":27.3},{"c":"d2","t":0.65,"v":29.5},{"c":"d2","t":0.7,"v":32},{"c":"d2","t":0.75,"v":35},{"c":"d2","t":0.8,"v":38},{"c":"d2","t":0.85,"v":41.5},{"c":"d2","t":0.9,"v":45},{"c":"d2","t":0.95,"v":48},{"c":"d2","t":1,"v":50.5},{"c":"d2","t":1.1,"v":53},{"c":"d2","t":1.2,"v":54},{"c":"d2","t":1.3,"v":53},{"c":"d2","t":1.4,"v":52.2},{"c":"d2","t":1.5,"v":51.6},
{"c":"d3","t":0,"v":3.3},{"c":"d3","t":0.07,"v":3.3},{"c":"d3","t":0.08,"v":6},{"c":"d3","t":0.09,"v":12.5},{"c":"d3","t":0.1,"v":14.5},{"c":"d3","t":0.15,"v":15},{"c":"d3","t":0.25,"v":15.8},{"c":"d3","t":0.35,"v":17},{"c":"d3","t":0.45,"v":19.5},{"c":"d3","t":0.5,"v":21},{"c":"d3","t":0.55,"v":23},{"c":"d3","t":0.6,"v":25},{"c":"d3","t":0.65,"v":27},{"c":"d3","t":0.7,"v":29},{"c":"d3","t":0.75,"v":31.5},{"c":"d3","t":0.8,"v":34.5},{"c":"d3","t":0.85,"v":38},{"c":"d3","t":0.9,"v":42},{"c":"d3","t":0.95,"v":45.5},{"c":"d3","t":1,"v":48.5},{"c":"d3","t":1.1,"v":52},{"c":"d3","t":1.2,"v":53.5},{"c":"d3","t":1.3,"v":52.5},{"c":"d3","t":1.4,"v":51.6},{"c":"d3","t":1.5,"v":51.2},
{"c":"e1","t":0,"v":2.9},{"c":"e1","t":0.07,"v":2.9},{"c":"e1","t":0.08,"v":6},{"c":"e1","t":0.09,"v":12},{"c":"e1","t":0.1,"v":14.8},{"c":"e1","t":0.15,"v":15.2},{"c":"e1","t":0.25,"v":15.5},{"c":"e1","t":0.35,"v":16.5},{"c":"e1","t":0.45,"v":18.5},{"c":"e1","t":0.5,"v":19.5},{"c":"e1","t":0.55,"v":21},{"c":"e1","t":0.6,"v":22.8},{"c":"e1","t":0.65,"v":24.5},{"c":"e1","t":0.7,"v":26.5},{"c":"e1","t":0.75,"v":28.8},{"c":"e1","t":0.8,"v":31},{"c":"e1","t":0.85,"v":33.5},{"c":"e1","t":0.9,"v":36},{"c":"e1","t":0.95,"v":38.5},{"c":"e1","t":1,"v":41},{"c":"e1","t":1.1,"v":45},{"c":"e1","t":1.2,"v":48},{"c":"e1","t":1.3,"v":49.5},{"c":"e1","t":1.4,"v":50},{"c":"e1","t":1.5,"v":49.9},
{"c":"e2","t":0,"v":3.6},{"c":"e2","t":0.07,"v":3.6},{"c":"e2","t":0.08,"v":6.5},{"c":"e2","t":0.09,"v":12},{"c":"e2","t":0.1,"v":14.5},{"c":"e2","t":0.15,"v":14.8},{"c":"e2","t":0.25,"v":15},{"c":"e2","t":0.35,"v":15.8},{"c":"e2","t":0.45,"v":17.5},{"c":"e2","t":0.5,"v":18.5},{"c":"e2","t":0.55,"v":19.8},{"c":"e2","t":0.6,"v":21.3},{"c":"e2","t":0.65,"v":23},{"c":"e2","t":0.7,"v":24.8},{"c":"e2","t":0.75,"v":27},{"c":"e2","t":0.8,"v":29.5},{"c":"e2","t":0.85,"v":32},{"c":"e2","t":0.9,"v":34.5},{"c":"e2","t":0.95,"v":37},{"c":"e2","t":1,"v":39.5},{"c":"e2","t":1.1,"v":43.5},{"c":"e2","t":1.2,"v":46.3},{"c":"e2","t":1.3,"v":48},{"c":"e2","t":1.4,"v":48.6},{"c":"e2","t":1.5,"v":48.5},
{"c":"g1","t":0,"v":2.9},{"c":"g1","t":0.07,"v":2.9},{"c":"g1","t":0.08,"v":6},{"c":"g1","t":0.09,"v":12},{"c":"g1","t":0.1,"v":14.5},{"c":"g1","t":0.15,"v":14.8},{"c":"g1","t":0.25,"v":15.2},{"c":"g1","t":0.35,"v":15.8},{"c":"g1","t":0.45,"v":17},{"c":"g1","t":0.5,"v":17.8},{"c":"g1","t":0.55,"v":18.8},{"c":"g1","t":0.6,"v":20},{"c":"g1","t":0.65,"v":21.3},{"c":"g1","t":0.7,"v":22.5},{"c":"g1","t":0.75,"v":24.2},{"c":"g1","t":0.8,"v":26.3},{"c":"g1","t":0.85,"v":28.7},{"c":"g1","t":0.9,"v":31},{"c":"g1","t":0.95,"v":33.3},{"c":"g1","t":1,"v":35.5},{"c":"g1","t":1.1,"v":40},{"c":"g1","t":1.2,"v":43.5},{"c":"g1","t":1.3,"v":45.8},{"c":"g1","t":1.4,"v":47},{"c":"g1","t":1.5,"v":47.6},
{"c":"g2","t":0,"v":3.5},{"c":"g2","t":0.07,"v":3.5},{"c":"g2","t":0.08,"v":7},{"c":"g2","t":0.09,"v":12},{"c":"g2","t":0.1,"v":14},{"c":"g2","t":0.15,"v":14.4},{"c":"g2","t":0.25,"v":14.7},{"c":"g2","t":0.35,"v":15.2},{"c":"g2","t":0.45,"v":16.3},{"c":"g2","t":0.5,"v":17},{"c":"g2","t":0.55,"v":18},{"c":"g2","t":0.6,"v":19.2},{"c":"g2","t":0.65,"v":20.3},{"c":"g2","t":0.7,"v":21.5},{"c":"g2","t":0.75,"v":23.2},{"c":"g2","t":0.8,"v":25.2},{"c":"g2","t":0.85,"v":27.5},{"c":"g2","t":0.9,"v":30},{"c":"g2","t":0.95,"v":32.4},{"c":"g2","t":1,"v":34.7},{"c":"g2","t":1.1,"v":39.2},{"c":"g2","t":1.2,"v":42.8},{"c":"g2","t":1.3,"v":45.3},{"c":"g2","t":1.4,"v":46.6},{"c":"g2","t":1.5,"v":47.2},
{"c":"g3","t":0,"v":2.5},{"c":"g3","t":0.07,"v":2.5},{"c":"g3","t":0.08,"v":5.5},{"c":"g3","t":0.09,"v":11},{"c":"g3","t":0.1,"v":13.8},{"c":"g3","t":0.15,"v":14},{"c":"g3","t":0.25,"v":14.3},{"c":"g3","t":0.35,"v":14.7},{"c":"g3","t":0.45,"v":15.8},{"c":"g3","t":0.5,"v":16.5},{"c":"g3","t":0.55,"v":17.4},{"c":"g3","t":0.6,"v":18.5},{"c":"g3","t":0.65,"v":19.6},{"c":"g3","t":0.7,"v":20.8},{"c":"g3","t":0.75,"v":22.4},{"c":"g3","t":0.8,"v":24.3},{"c":"g3","t":0.85,"v":26.6},{"c":"g3","t":0.9,"v":29},{"c":"g3","t":0.95,"v":31.5},{"c":"g3","t":1,"v":33.8},{"c":"g3","t":1.1,"v":38.4},{"c":"g3","t":1.2,"v":42.1},{"c":"g3","t":1.3,"v":44.8},{"c":"g3","t":1.4,"v":46.2},{"c":"g3","t":1.5,"v":46.8},
{"c":"g4","t":0,"v":3.2},{"c":"g4","t":0.07,"v":3.2},{"c":"g4","t":0.08,"v":6},{"c":"g4","t":0.09,"v":11.5},{"c":"g4","t":0.1,"v":14.2},{"c":"g4","t":0.15,"v":14.2},{"c":"g4","t":0.25,"v":14.5},{"c":"g4","t":0.35,"v":14.6},{"c":"g4","t":0.45,"v":15.3},{"c":"g4","t":0.5,"v":16},{"c":"g4","t":0.55,"v":16.8},{"c":"g4","t":0.6,"v":17.8},{"c":"g4","t":0.65,"v":18.9},{"c":"g4","t":0.7,"v":20},{"c":"g4","t":0.75,"v":21.6},{"c":"g4","t":0.8,"v":23.5},{"c":"g4","t":0.85,"v":25.8},{"c":"g4","t":0.9,"v":28.2},{"c":"g4","t":0.95,"v":30.7},{"c":"g4","t":1,"v":33},{"c":"g4","t":1.1,"v":37.6},{"c":"g4","t":1.2,"v":41.4},{"c":"g4","t":1.3,"v":44.3},{"c":"g4","t":1.4,"v":45.8},{"c":"g4","t":1.5,"v":46.4},
{"c":"g5","t":0,"v":2.7},{"c":"g5","t":0.07,"v":2.7},{"c":"g5","t":0.08,"v":5.5},{"c":"g5","t":0.09,"v":10.5},{"c":"g5","t":0.1,"v":13.5},{"c":"g5","t":0.15,"v":13.7},{"c":"g5","t":0.25,"v":13.9},{"c":"g5","t":0.35,"v":14},{"c":"g5","t":0.45,"v":14.8},{"c":"g5","t":0.5,"v":15.4},{"c":"g5","t":0.55,"v":16.2},{"c":"g5","t":0.6,"v":17.2},{"c":"g5","t":0.65,"v":18.2},{"c":"g5","t":0.7,"v":19.3},{"c":"g5","t":0.75,"v":20.8},{"c":"g5","t":0.8,"v":22.6},{"c":"g5","t":0.85,"v":24.9},{"c":"g5","t":0.9,"v":27.3},{"c":"g5","t":0.95,"v":29.8},{"c":"g5","t":1,"v":32.2},{"c":"g5","t":1.1,"v":36.9},{"c":"g5","t":1.2,"v":40.8},{"c":"g5","t":1.3,"v":43.8},{"c":"g5","t":1.4,"v":45.4},{"c":"g5","t":1.5,"v":46},
{"c":"g6","t":0,"v":3},{"c":"g6","t":0.07,"v":3},{"c":"g6","t":0.08,"v":6},{"c":"g6","t":0.09,"v":10.5},{"c":"g6","t":0.1,"v":13.2},{"c":"g6","t":0.15,"v":13.5},{"c":"g6","t":0.25,"v":13.6},{"c":"g6","t":0.35,"v":13.7},{"c":"g6","t":0.45,"v":14.3},{"c":"g6","t":0.5,"v":14.9},{"c":"g6","t":0.55,"v":15.6},{"c":"g6","t":0.6,"v":16.5},{"c":"g6","t":0.65,"v":17.5},{"c":"g6","t":0.7,"v":18.6},{"c":"g6","t":0.75,"v":20},{"c":"g6","t":0.8,"v":21.8},{"c":"g6","t":0.85,"v":24},{"c":"g6","t":0.9,"v":26.4},{"c":"g6","t":0.95,"v":29},{"c":"g6","t":1,"v":31.5},{"c":"g6","t":1.1,"v":36.2},{"c":"g6","t":1.2,"v":40.2},{"c":"g6","t":1.3,"v":43.4},{"c":"g6","t":1.4,"v":45.2},{"c":"g6","t":1.5,"v":45.8}
]
},
"vconcat": [
{
 "bounds": "flush",
 "spacing": 137,
 "hconcat": [
 {
  "width": 463, "height": 520,
  "encoding": {
   "x": {"field": "t", "type": "quantitative", "scale": {"domain": [0, 0.63], "nice": false, "zero": false},
         "axis": {"values": [0, 0.1, 0.2, 0.3, 0.4, 0.5, 0.6], "tickSize": {"condition": {"test": "datum.value == 0 || datum.value == 0.5", "value": 18}, "value": 9}, "labelExpr": "datum.value == 0 ? '0' : datum.value == 0.5 ? '0.5' : ''", "labelBaseline": "middle", "labelPadding": 13, "title": null}},
   "y": {"field": "v", "type": "quantitative", "scale": {"domain": [0, 70], "nice": false, "zero": false},
         "axis": {"orient": "right", "offset": -22, "values": [0, 10, 20, 30, 40, 50, 60, 70], "labels": false, "tickSize": {"condition": {"test": "datum.value == 0 || datum.value == 50", "value": 21}, "value": 11}, "title": null}}
  },
  "layer": [
   {"data": {"name": "fast"}, "mark": {"type": "line", "interpolate": "monotone", "strokeDash": [1.6, 2.3], "strokeWidth": 2, "color": "#48423f"}, "encoding": {"detail": {"field": "c"}}},
   {"data": {"values": [{"t": 0.582, "v": 65.3, "s": "Fast start transients"}]}, "mark": {"type": "text", "align": "right", "baseline": "middle", "font": "Liberation Mono", "fontSize": 18.5, "color": "#4d4744"}, "encoding": {"text": {"field": "s"}}},
   {"data": {"values": [{"t": 0.09, "v": 8.2, "s": "- Ignition"}]}, "mark": {"type": "text", "align": "left", "baseline": "middle", "font": "Liberation Mono", "fontSize": 13, "color": "#4d4744"}, "encoding": {"text": {"field": "s"}}}
  ]
 },
 {
  "width": 503, "height": 520,
  "encoding": {
   "x": {"field": "t", "type": "quantitative", "scale": {"domain": [-0.03, 0.7], "nice": false, "zero": false},
         "axis": {"values": [0, 0.1, 0.2, 0.3, 0.4, 0.5, 0.6, 0.7], "tickSize": {"condition": {"test": "datum.value == 0 || datum.value == 0.5", "value": 18}, "value": 9}, "labelExpr": "datum.value == 0 ? '0' : datum.value == 0.5 ? '0.5' : ''", "labelBaseline": "middle", "labelPadding": 13, "title": null}},
   "y": {"field": "v", "type": "quantitative", "scale": {"domain": [0, 70], "nice": false, "zero": false},
         "axis": {"orient": "left", "offset": -20.7, "values": [0, 10, 20, 30, 40, 50, 60, 70], "tickSize": {"condition": {"test": "datum.value == 0 || datum.value == 50", "value": 21}, "value": 11}, "labelExpr": "datum.value == 0 ? '0' : datum.value == 50 ? '50' : ''", "labelAlign": "center", "labelBaseline": "middle", "labelPadding": 72, "title": null}}
  },
  "layer": [
   {"data": {"name": "shut"}, "mark": {"type": "line", "interpolate": "monotone", "strokeDash": [1.6, 2.3], "strokeWidth": 2, "color": "#48423f"}, "encoding": {"detail": {"field": "c"}}},
   {"data": {"values": [{"t": 0.333, "v": 56.1, "s": "Shutdown transients"}]}, "mark": {"type": "text", "align": "center", "baseline": "middle", "font": "Liberation Mono", "fontSize": 18.5, "color": "#4d4744"}, "encoding": {"text": {"field": "s"}}},
   {"data": {"values": [{"t": -0.131, "v": 56.1, "s": "Steady-state"}]}, "mark": {"type": "text", "align": "center", "baseline": "middle", "font": "Liberation Mono", "fontSize": 17, "color": "#4d4744"}, "encoding": {"text": {"field": "s"}}},
   {"data": {"values": [{"t": -0.2424, "v": 56.1, "s": "←"}, {"t": -0.019, "v": 56.1, "s": "-→"}]}, "mark": {"type": "text", "align": "center", "baseline": "middle", "font": "DejaVu Sans Mono", "fontSize": 20, "color": "#8d8783"}, "encoding": {"text": {"field": "s"}}},
   {"data": {"values": [{"t": -0.1466, "v": 72.2, "s": "P"}, {"t": -0.159, "v": 68.4, "s": "P"}]}, "mark": {"type": "text", "align": "center", "baseline": "middle", "font": "Liberation Serif", "fontSize": 20, "color": "#4d4744"}, "encoding": {"text": {"field": "s"}}},
   {"data": {"values": [{"t": -0.127, "v": 71.2, "s": "CC"}, {"t": -0.1255, "v": 67.0, "s": "BACK"}]}, "mark": {"type": "text", "align": "center", "baseline": "middle", "font": "Liberation Serif", "fontSize": 12, "color": "#4d4744"}, "encoding": {"text": {"field": "s"}}},
   {"data": {"values": [{"t": -0.161, "t2": -0.1016, "v": 70.3}]}, "mark": {"type": "rule", "strokeWidth": 1.3, "color": "#4d4744"}, "encoding": {"x2": {"field": "t2"}}}
  ]
 }
 ]
},
{
 "width": 1103, "height": 521,
 "encoding": {
  "x": {"field": "t", "type": "quantitative", "scale": {"domain": [0, 1.5], "nice": false, "zero": false},
        "axis": {"values": [0, 0.1, 0.2, 0.3, 0.4, 0.5, 0.6, 0.7, 0.8, 0.9, 1, 1.1, 1.2, 1.3, 1.4, 1.5], "tickSize": {"condition": {"test": "datum.value == 0 || datum.value == 0.5 || datum.value == 1 || datum.value == 1.5", "value": 19}, "value": 10}, "labelExpr": "datum.value == 0 ? '0' : datum.value == 0.5 ? '0.5' : datum.value == 1 ? '1' : datum.value == 1.5 ? '1.5' : ''", "labelBaseline": "middle", "labelPadding": 19, "title": "Time from startup or shutdown command [s]", "titlePadding": 16}},
  "y": {"field": "v", "type": "quantitative", "scale": {"domain": [0, 70], "nice": false, "zero": false},
        "axis": {"orient": "right", "values": [0, 10, 20, 30, 40, 50, 60, 70], "tickSize": {"condition": {"test": "datum.value == 0 || datum.value == 50", "value": 22}, "value": 12}, "labelExpr": "datum.value == 0 ? '0' : datum.value == 50 ? '50' : ''", "labelAlign": "left", "labelBaseline": "middle", "labelPadding": 6, "title": null}}
 },
 "layer": [
  {"data": {"name": "slow"}, "mark": {"type": "line", "interpolate": "monotone", "strokeDash": [1.6, 2.6], "strokeWidth": 2, "color": "#48423f"}, "encoding": {"detail": {"field": "c"}}},
  {"data": {"values": [{"t": 1.478, "v": 64.9, "s": "Slow start transients"}]}, "mark": {"type": "text", "align": "right", "baseline": "middle", "font": "Liberation Mono", "fontSize": 18.5, "color": "#4d4744"}, "encoding": {"text": {"field": "s"}}},
  {"data": {"values": [{"t": 1.613, "v": 14.5, "s": "Steady-state"}]}, "mark": {"type": "text", "align": "left", "baseline": "middle", "font": "Liberation Mono", "fontSize": 17, "color": "#4d4744"}, "encoding": {"text": {"field": "s"}}},
  {"data": {"values": [{"t": 1.503, "t2": 1.586, "v": 14.5}]}, "mark": {"type": "rule", "strokeWidth": 1.5, "strokeDash": [7, 4], "color": "#8d8783"}, "encoding": {"x2": {"field": "t2"}}},
  {"data": {"values": [{"t": 1.596, "v": 14.5}]}, "mark": {"type": "point", "shape": "triangle-right", "filled": true, "size": 140, "opacity": 1, "color": "#8d8783"}},
  {"data": {"values": [{"t": 1.531, "v": 72.2, "s": "P"}, {"t": 1.531, "v": 67.7, "s": "P"}]}, "mark": {"type": "text", "align": "center", "baseline": "middle", "font": "Liberation Serif", "fontSize": 20, "color": "#4d4744"}, "encoding": {"text": {"field": "s"}}},
  {"data": {"values": [{"t": 1.5497, "v": 71.0, "s": "CC"}, {"t": 1.562, "v": 66.6, "s": "BACK"}]}, "mark": {"type": "text", "align": "center", "baseline": "middle", "font": "Liberation Serif", "fontSize": 12, "color": "#4d4744"}, "encoding": {"text": {"field": "s"}}},
  {"data": {"values": [{"t": 1.5232, "t2": 1.5803, "v": 69.9}]}, "mark": {"type": "rule", "strokeWidth": 1.3, "color": "#4d4744"}, "encoding": {"x2": {"field": "t2"}}}
 ]
}
]
}
